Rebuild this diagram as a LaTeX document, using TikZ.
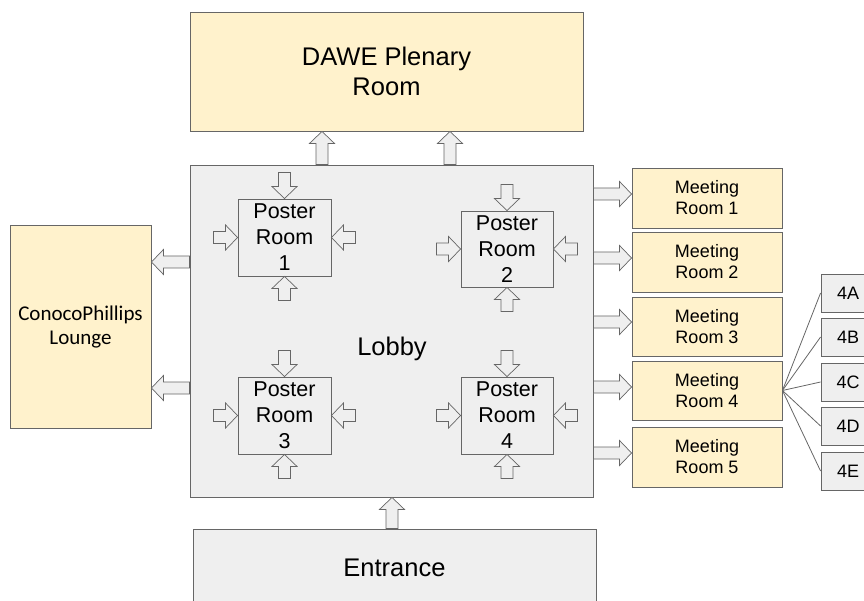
\documentclass[tikz,border=0pt]{standalone}
\usepackage{fontspec}
\setmainfont{Liberation Sans}
\newfontfamily\loungefont{Carlito}
\usetikzlibrary{calc}

\definecolor{cream}{HTML}{FFF2CC}
\definecolor{pale}{HTML}{EFEFEF}
\definecolor{edge}{HTML}{666666}

\tikzset{
  box/.style={draw=edge,line width=0.9pt,inner sep=0pt,align=center},
  yellowbox/.style={box,fill=cream},
  greybox/.style={box,fill=pale},
  blockarr/.style={draw=edge,fill=pale,line width=0.7pt,line join=miter},
  link/.style={draw=edge,line width=0.8pt},
}

% block arrow from #1 to #2
\newcommand{\blockarrow}[2]{%
  \path[blockarr] let \p1=(#1), \p2=(#2),
    \n1={atan2(\y2-\y1,\x2-\x1)}, \n2={veclen(\x2-\x1,\y2-\y1)} in
    [shift={(\p1)},rotate=\n1]
    (0,-6) -- ({\n2-12},-6) -- ({\n2-12},-12.5) -- (\n2,0)
    -- ({\n2-12},12.5) -- ({\n2-12},6) -- (0,6) -- cycle;}

\newcommand{\bigtxt}{\fontsize{25.5}{30}\selectfont}
\newcommand{\midtxt}{\fontsize{21.5}{26}\selectfont}
\newcommand{\smalltxt}{\fontsize{18}{21}\selectfont}

\begin{document}
\begin{tikzpicture}[x=1pt,y=-1pt]
  \useasboundingbox (0,0) rectangle (864,601);
  \clip (0,0) rectangle (864,601);

  \node[yellowbox,minimum width=393,minimum height=119,font=\bigtxt] (dawe) at (386.5,71.5) {DAWE Plenary\\Room};
  \node[greybox,minimum width=403,minimum height=332] (lobby) at (391.5,331) {};
  \node[anchor=base,font=\bigtxt] (lobbytxt) at (392,355) {Lobby};
  \node[greybox,minimum width=403,minimum height=78,font=\bigtxt] (entr) at (394.5,568) {Entrance};
  \node[yellowbox,minimum width=141,minimum height=203,font=\loungefont\fontsize{21}{24}\selectfont] (lounge) at (80.5,327) {ConocoPhillips\\Lounge};

  \node[greybox,minimum width=93,minimum height=77,font=\midtxt] (pr1) at (284.5,237.5) {Poster\\Room\\1};
  \node[greybox,minimum width=92,minimum height=76,font=\midtxt] (pr2) at (507,249) {Poster\\Room\\2};
  \node[greybox,minimum width=93,minimum height=77,font=\midtxt] (pr3) at (284.5,415.5) {Poster\\Room\\3};
  \node[greybox,minimum width=92,minimum height=77,font=\midtxt] (pr4) at (507,415.5) {Poster\\Room\\4};

  \node[yellowbox,minimum width=150,minimum height=60,font=\smalltxt] (mr1) at (707,198) {Meeting\\Room 1};
  \node[yellowbox,minimum width=150,minimum height=60,font=\smalltxt] (mr2) at (707,262) {Meeting\\Room 2};
  \node[yellowbox,minimum width=150,minimum height=59,font=\smalltxt] (mr3) at (707,326.5) {Meeting\\Room 3};
  \node[yellowbox,minimum width=150,minimum height=59,font=\smalltxt] (mr4) at (707,390.5) {Meeting\\Room 4};
  \node[yellowbox,minimum width=150,minimum height=60,font=\smalltxt] (mr5) at (707,457) {Meeting\\Room 5};

  \node[greybox,minimum width=54,minimum height=38,font=\smalltxt] (r4a) at (848,293) {4A};
  \node[greybox,minimum width=54,minimum height=38,font=\smalltxt] (r4b) at (848,337) {4B};
  \node[greybox,minimum width=54,minimum height=38,font=\smalltxt] (r4c) at (848,382) {4C};
  \node[greybox,minimum width=54,minimum height=38,font=\smalltxt] (r4d) at (848,426) {4D};
  \node[greybox,minimum width=54,minimum height=38,font=\smalltxt] (r4e) at (848,471) {4E};

  \foreach \s in {r4a,r4b,r4c,r4d,r4e}
    \draw[link] (mr4.east) -- (\s.west);

  \blockarrow{lobby.north -| 322,0}{dawe.south -| 322,0}
  \blockarrow{lobby.north -| 450,0}{dawe.south -| 450,0}
  \blockarrow{entr.north -| 392,0}{lobby.south -| 392,0}
  \blockarrow{lobby.west |- 0,262}{lounge.east |- 0,262}
  \blockarrow{lobby.west |- 0,388}{lounge.east |- 0,388}

  \blockarrow{$(pr1.north)+(0,-26)$}{pr1.north}
  \blockarrow{$(pr1.south)+(0,24)$}{pr1.south}
  \blockarrow{$(pr1.west)+(-24,0)$}{pr1.west}
  \blockarrow{$(pr1.east)+(24,0)$}{pr1.east}
  \blockarrow{$(pr2.north)+(0,-26)$}{pr2.north}
  \blockarrow{$(pr2.south)+(0,24)$}{pr2.south}
  \blockarrow{$(pr2.west)+(-24,0)$}{pr2.west}
  \blockarrow{$(pr2.east)+(24,0)$}{pr2.east}
  \blockarrow{$(pr3.north)+(0,-26)$}{pr3.north}
  \blockarrow{$(pr3.south)+(0,24)$}{pr3.south}
  \blockarrow{$(pr3.west)+(-24,0)$}{pr3.west}
  \blockarrow{$(pr3.east)+(24,0)$}{pr3.east}
  \blockarrow{$(pr4.north)+(0,-26)$}{pr4.north}
  \blockarrow{$(pr4.south)+(0,24)$}{pr4.south}
  \blockarrow{$(pr4.west)+(-24,0)$}{pr4.west}
  \blockarrow{$(pr4.east)+(24,0)$}{pr4.east}

  \blockarrow{lobby.east |- 0,194}{mr1.west |- 0,194}
  \blockarrow{lobby.east |- 0,258}{mr2.west |- 0,258}
  \blockarrow{lobby.east |- 0,322}{mr3.west |- 0,322}
  \blockarrow{lobby.east |- 0,387}{mr4.west |- 0,387}
  \blockarrow{lobby.east |- 0,453}{mr5.west |- 0,453}
\end{tikzpicture}
\end{document}
